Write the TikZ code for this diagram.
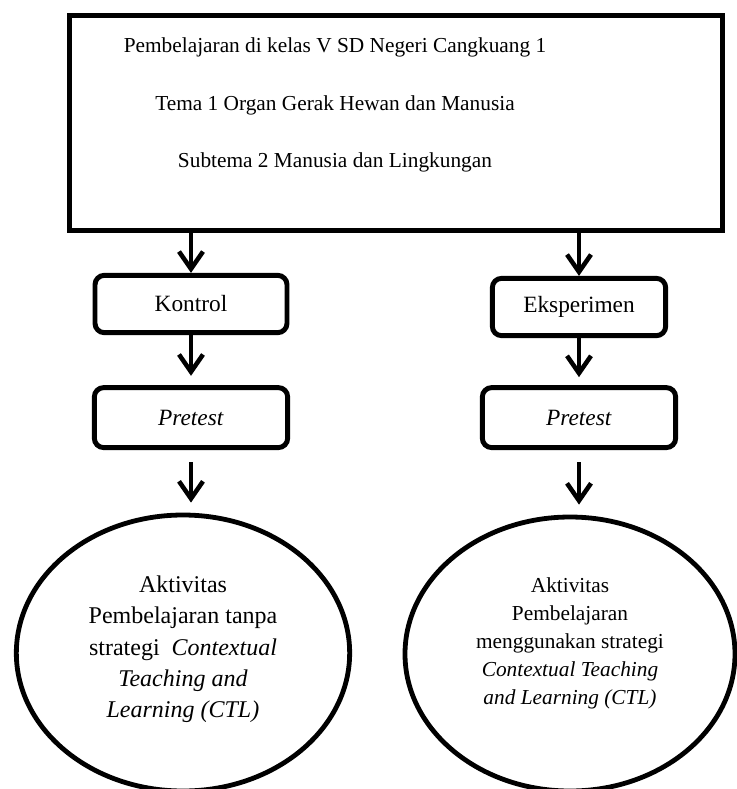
\documentclass[tikz,border=0pt]{standalone}
\usepackage{fontspec}
\setmainfont{Liberation Serif}
\usetikzlibrary{positioning,arrows.meta,shapes.geometric}

\begin{document}
\begin{tikzpicture}[
    x=0.75pt, y=-0.75pt,
    >={Straight Barb[length=13pt,width=18pt]},
    topbox/.style={
        draw, line width=3.9pt,
        minimum width=490pt, minimum height=161pt
    },
    toptext/.style={
        align=center,
        font=\fontsize{16}{43}\selectfont
    },
    groupbox/.style={
        draw, line width=3.7pt,
        rounded corners=7pt,
        minimum height=43pt,
        font=\fontsize{17.5}{21}\selectfont
    },
    testbox/.style={
        groupbox,
        minimum width=145pt, minimum height=45pt
    },
    actbox/.style={
        ellipse, draw, line width=3.6pt,
        align=center, inner sep=0pt
    },
    flow/.style={
        ->, line width=3.4pt
    }
]

\useasboundingbox (0,0) rectangle (736,789);

% header
\node[topbox] (top) at (396,123) {};
\node[toptext] (topt) at (335,105)
    {Pembelajaran di kelas V SD Negeri Cangkuang 1\\
     Tema 1 Organ Gerak Hewan dan Manusia\\
     Subtema 2 Manusia dan Lingkungan};

% kelas kontrol
\node[groupbox, minimum width=144pt] (kontrol) at (191,304) {Kontrol};
\node[testbox, below=37.5pt of kontrol] (preA) {\textit{Pretest}};
\node[actbox, minimum width=250pt, minimum height=207pt,
      font=\fontsize{18}{23.5}\selectfont] (actA) at (183,653)
    {Aktivitas\\
     Pembelajaran tanpa\\
     strategi\ \ \textit{Contextual}\\
     \textit{Teaching and}\\
     \textit{Learning (CTL)}\\[-14pt]\mbox{}};

% kelas eksperimen
\node[groupbox, minimum width=130pt] (eksp) at (579,307) {Eksperimen};
\node[testbox, below=35.25pt of eksp] (preB) {\textit{Pretest}};
\node[actbox, minimum width=247.5pt, minimum height=205.5pt,
      font=\fontsize{16}{21}\selectfont] (actB) at (570,654)
    {Aktivitas\\
     Pembelajaran\\
     menggunakan strategi\\
     \textit{Contextual Teaching}\\
     \textit{and Learning (CTL)}\\[-1.5pt]\mbox{}};

\draw[flow] (kontrol.north |- top.south) -- (kontrol.north);
\draw[flow, shorten >=7pt] (kontrol) -- (preA);
\draw[flow, shorten <=9pt, shorten >=7.5pt] (preA.south) -- (preA.south |- actA.north);

\draw[flow] (eksp.north |- top.south) -- (eksp.north);
\draw[flow, shorten >=6pt] (eksp) -- (preB);
\draw[flow, shorten <=9pt, shorten >=7.5pt] (preB.south) -- (preB.south |- actB.north);

\end{tikzpicture}
\end{document}
